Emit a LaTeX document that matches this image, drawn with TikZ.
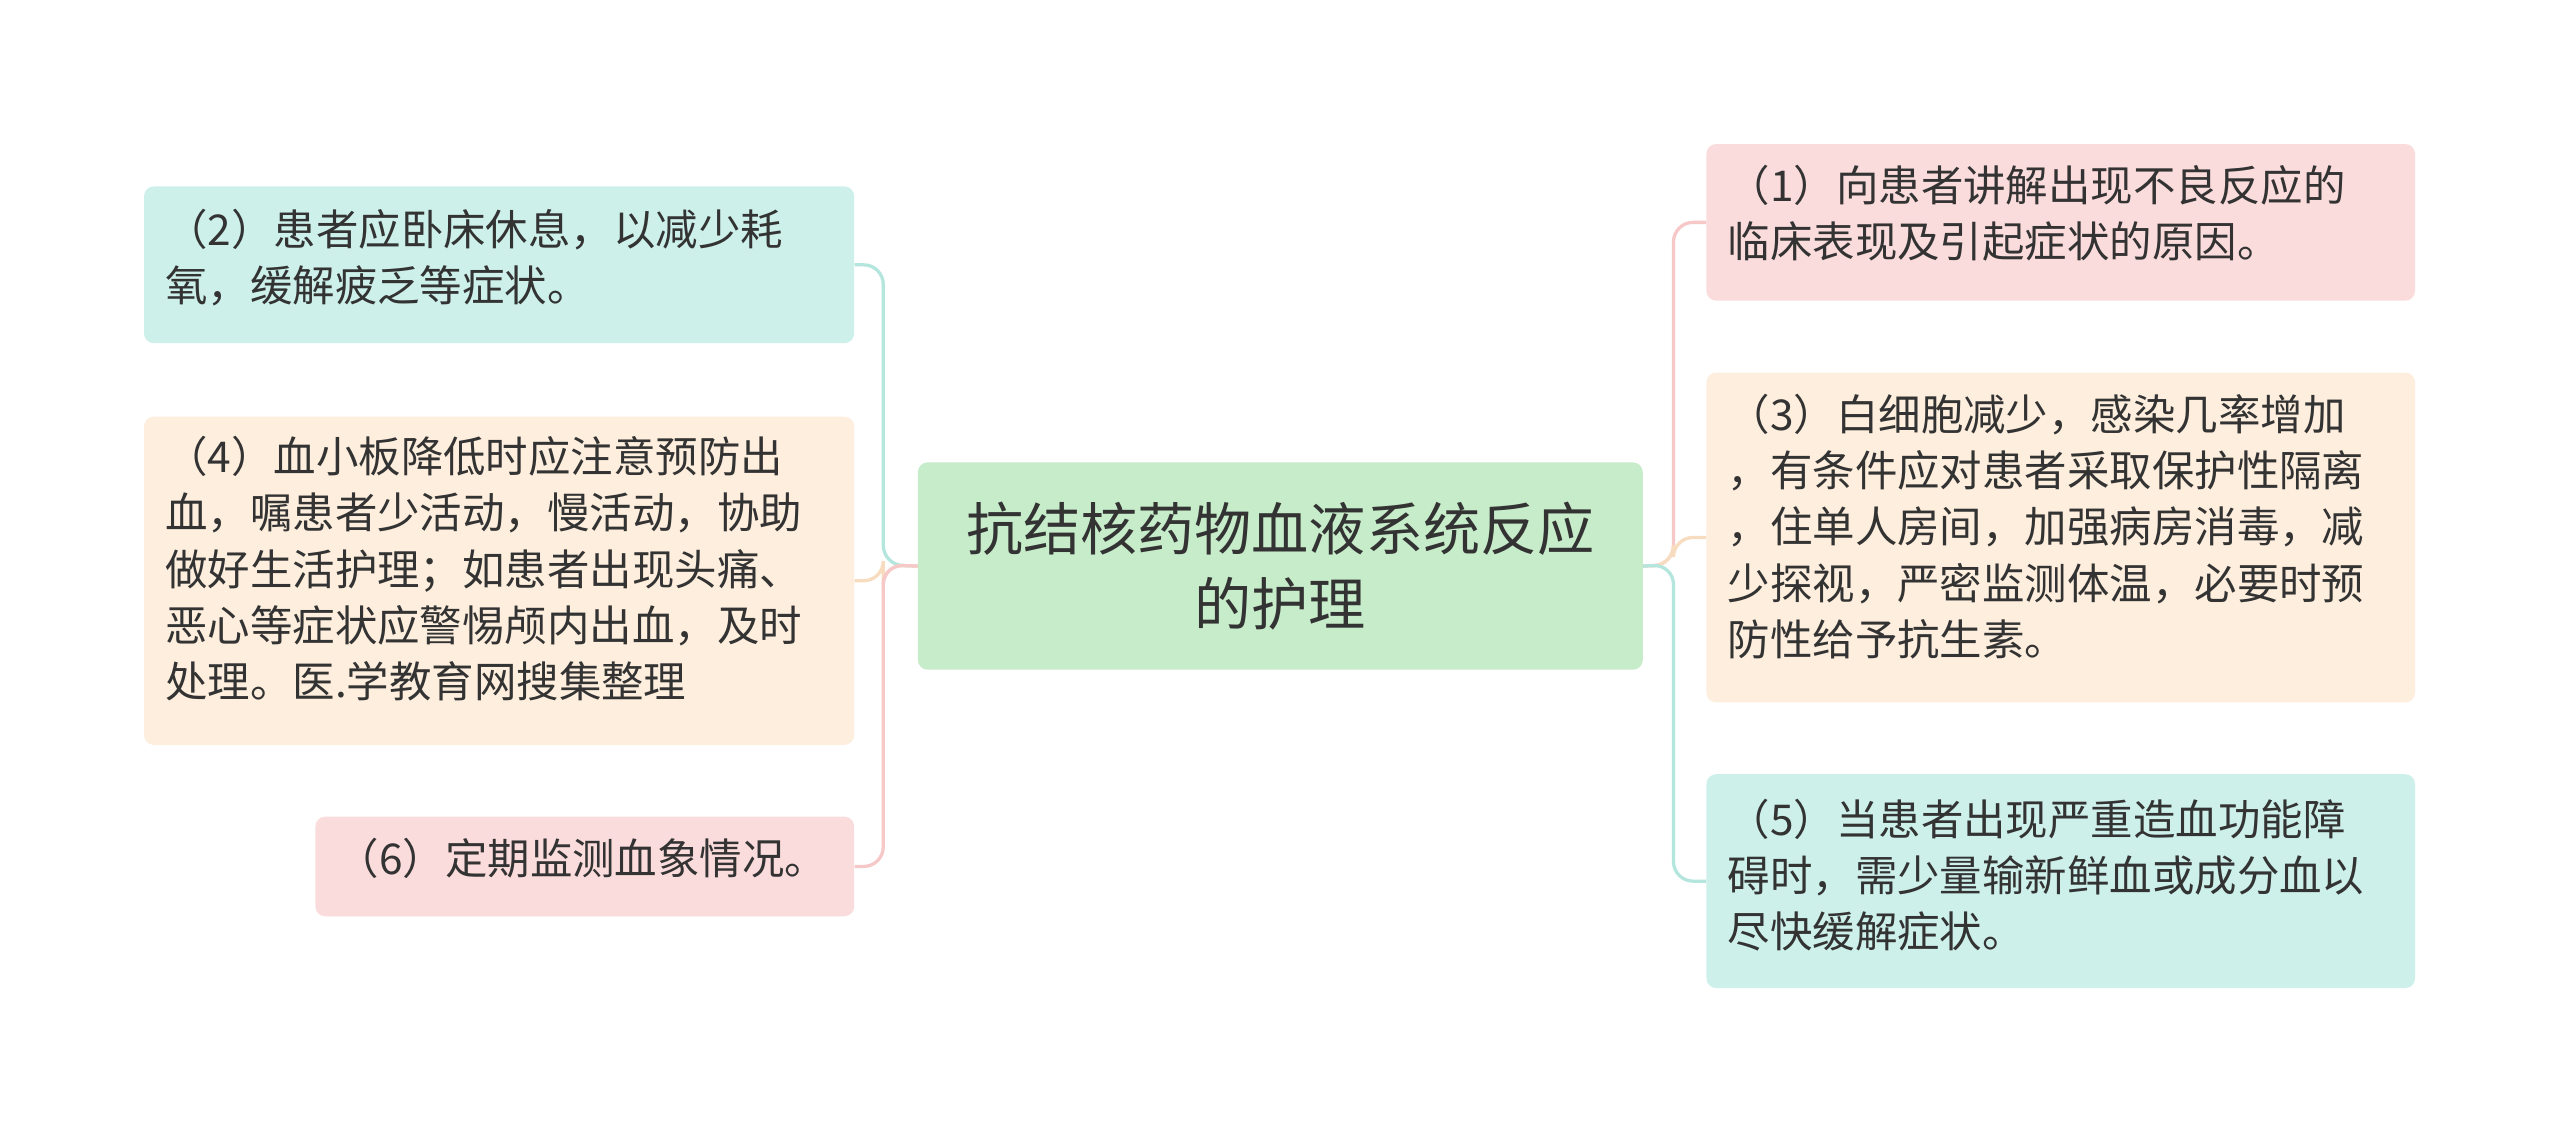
\documentclass[tikz,border=0pt]{standalone}
\usepackage{fontspec}
\setmainfont{Noto Sans CJK SC}
\begin{document}
\begin{tikzpicture}[x=1pt,y=-1pt,
 box/.style={rounded corners=6pt,inner sep=0pt,anchor=north west},
 txt/.style={anchor=north west,font=\fontsize{26}{34.5}\selectfont,text=black!80,align=left,inner sep=0pt},
 conn/.style={line width=2pt,rounded corners=12pt}]
\definecolor{cgreen}{HTML}{C7ECCA}
\definecolor{ccyan}{HTML}{CDF0EA}
\definecolor{cpeach}{HTML}{FDEEDD}
\definecolor{cpink}{HTML}{FBDCDC}
\definecolor{lcyan}{HTML}{B5E6DE}
\definecolor{lpeach}{HTML}{F8DCC0}
\definecolor{lpink}{HTML}{F6C8C8}
\useasboundingbox (0,0) rectangle (1568,693);
\fill[white] (0,0) rectangle (1568,693);
% boxes
\node[box,fill=cgreen,minimum width=444pt,minimum height=127pt] (c) at (562,283) {};
\node[font=\fontsize{35}{46}\selectfont,text=black!80,align=center] (ct) at (c.center) {抗结核药物血液系统反应\\的护理};
\node[box,fill=ccyan,minimum width=435pt,minimum height=96pt] (l1) at (88,114) {};
\node[txt] (t1) at (101,128) {（2）患者应卧床休息，以减少耗\\氧，缓解疲乏等症状。};
\node[box,fill=cpeach,minimum width=435pt,minimum height=201pt] (l2) at (88,255) {};
\node[txt] (t2) at (101,267) {（4）血小板降低时应注意预防出\\血，嘱患者少活动，慢活动，协助\\做好生活护理；如患者出现头痛、\\恶心等症状应警惕颅内出血，及时\\处理。医.学教育网搜集整理};
\node[box,fill=cpink,minimum width=330pt,minimum height=61pt] (l3) at (193,500) {};
\node[txt] (t3) at (206,513) {（6）定期监测血象情况。};
\node[box,fill=cpink,minimum width=434pt,minimum height=96pt] (r1) at (1045,88) {};
\node[txt] (t4) at (1058,101) {（1）向患者讲解出现不良反应的\\临床表现及引起症状的原因。};
\node[box,fill=cpeach,minimum width=434pt,minimum height=202pt] (r2) at (1045,228) {};
\node[txt] (t5) at (1058,241) {（3）白细胞减少，感染几率增加\\，有条件应对患者采取保护性隔离\\，住单人房间，加强病房消毒，减\\少探视，严密监测体温，必要时预\\防性给予抗生素。};
\node[box,fill=ccyan,minimum width=434pt,minimum height=131pt] (r3) at (1045,474) {};
\node[txt] (t6) at (1058,489) {（5）当患者出现严重造血功能障\\碍时，需少量输新鲜血或成分血以\\尽快缓解症状。};
% connectors
\coordinate (ls) at (541,346);
\coordinate (rs) at (1025,346);
\draw[conn,lcyan] (c.west) -- (ls) |- (l1.east);
\draw[conn,lpeach] (c.west) -- (ls) |- (l2.east);
\draw[conn,lpink] (c.west) -- (ls) |- (l3.east);
\draw[conn,lpink] (c.east) -- (rs) |- (r1.west);
\draw[conn,lpeach] (c.east) -- (rs) |- (r2.west);
\draw[conn,lcyan] (c.east) -- (rs) |- (r3.west);
\end{tikzpicture}
\end{document}
